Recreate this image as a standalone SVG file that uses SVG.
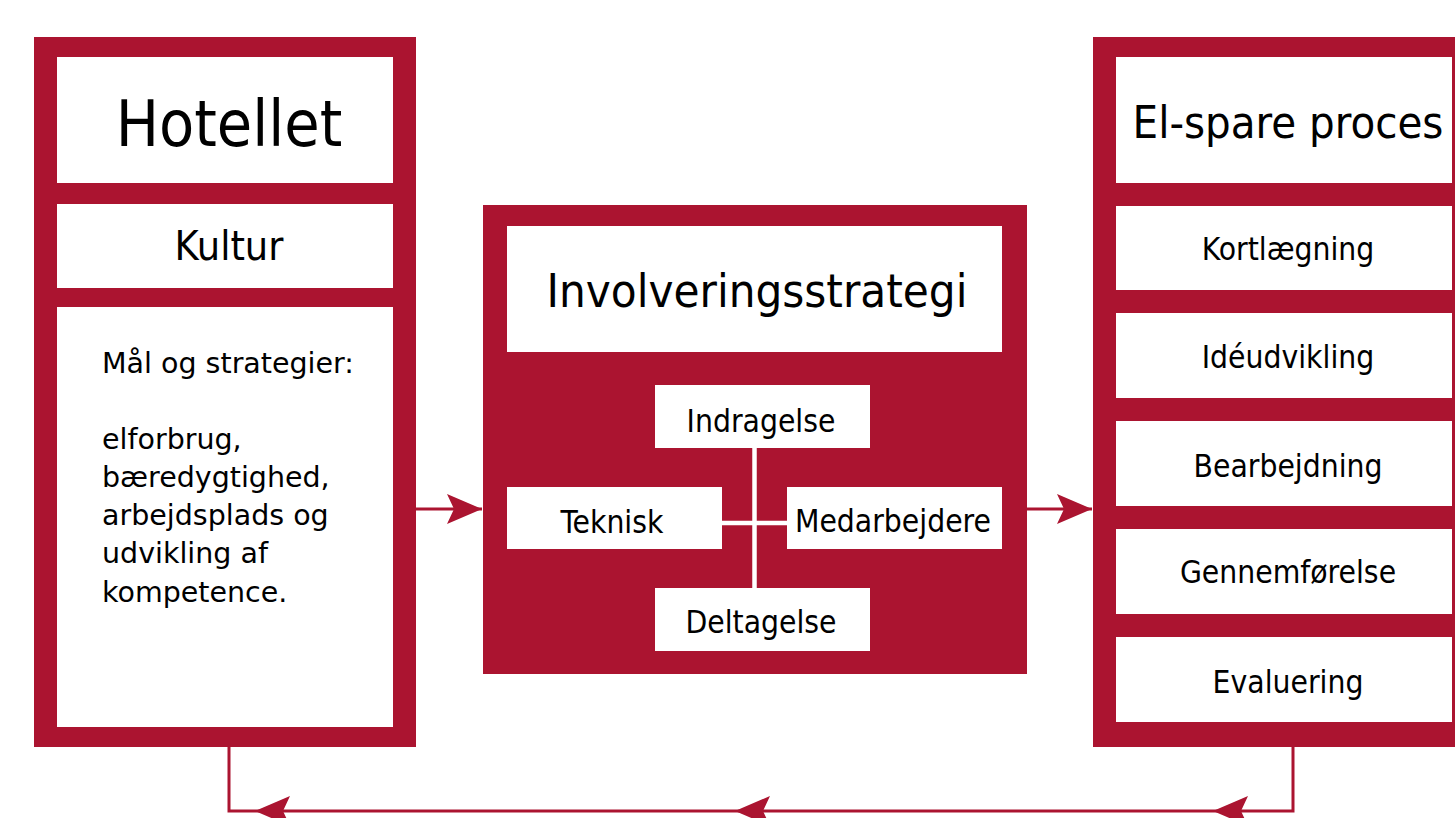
<svg xmlns="http://www.w3.org/2000/svg" width="1455" height="818" viewBox="0 0 1455 818">
<defs>
<style>
.frame{fill:#AB1430;}
.box{fill:#ffffff;}
.t{font-family:"DejaVu Sans Condensed","DejaVu Sans",sans-serif;font-stretch:condensed;fill:#000;text-anchor:middle;}
.tl{font-family:"DejaVu Sans",sans-serif;fill:#000;}
.conn{fill:none;stroke:#AB1430;stroke-width:3;}
.thin{stroke:#ffffff;stroke-width:4.5;}
</style>
<marker id="arr" markerUnits="userSpaceOnUse" markerWidth="35" markerHeight="30" viewBox="0 0 35 30" refX="35" refY="15" orient="auto">
<path d="M0,0 L35,15 L0,30 L7,15 Z" fill="#AB1430"/>
</marker>
</defs>
<rect width="1455" height="818" fill="#ffffff"/>

<g id="hotellet">
<rect class="frame" x="34" y="37" width="382" height="710"/>
<rect class="box" x="57" y="57" width="336" height="126"/>
<text class="t" x="229" y="146" font-size="64">Hotellet</text>
<rect class="box" x="57" y="204" width="336" height="84"/>
<text class="t" x="229" y="260" font-size="41">Kultur</text>
<rect class="box" x="57" y="307" width="336" height="420"/>
<text class="tl" x="102" font-size="28.5"><tspan x="102" y="373">Mål og strategier:</tspan><tspan x="102" y="449">elforbrug,</tspan><tspan x="102" y="487">bæredygtighed,</tspan><tspan x="102" y="525">arbejdsplads og</tspan><tspan x="102" y="563">udvikling af</tspan><tspan x="102" y="602">kompetence.</tspan></text>
</g>

<g id="involvering">
<rect class="frame" x="483" y="205" width="544" height="469"/>
<rect class="box" x="507" y="226" width="495" height="126"/>
<text class="t" x="757" y="307" font-size="47">Involveringsstrategi</text>
<line class="thin" x1="754.5" y1="448" x2="754.5" y2="588"/>
<line class="thin" x1="722" y1="523" x2="787" y2="523"/>
<g id="indragelse">
<rect class="box" x="655" y="385" width="215" height="63"/>
<text class="t" x="761" y="432" font-size="31.5">Indragelse</text>
</g>
<g id="teknisk">
<rect class="box" x="507" y="487" width="215" height="62"/>
<text class="t" x="612" y="533" font-size="31.5">Teknisk</text>
</g>
<g id="medarbejdere">
<rect class="box" x="787" y="487" width="215" height="62"/>
<text class="t" x="893" y="532" font-size="31.5">Medarbejdere</text>
</g>
<g id="deltagelse">
<rect class="box" x="655" y="588" width="215" height="63"/>
<text class="t" x="761" y="633" font-size="31.5">Deltagelse</text>
</g>
</g>

<g id="elspare">
<rect class="frame" x="1093" y="37" width="400" height="710"/>
<rect class="box" x="1116" y="57" width="336" height="126"/>
<text class="t" x="1288" y="138" font-size="45">El-spare proces</text>
<g id="kortlaegning">
<rect class="box" x="1116" y="206" width="336" height="84"/>
<text class="t" x="1288" y="260" font-size="31.5">Kortlægning</text>
</g>
<g id="ideudvikling">
<rect class="box" x="1116" y="313" width="336" height="85"/>
<text class="t" x="1288" y="368" font-size="31.5">Idéudvikling</text>
</g>
<g id="bearbejdning">
<rect class="box" x="1116" y="421" width="336" height="85"/>
<text class="t" x="1288" y="477" font-size="31.5">Bearbejdning</text>
</g>
<g id="gennemfoerelse">
<rect class="box" x="1116" y="529" width="336" height="85"/>
<text class="t" x="1288" y="583" font-size="31.5">Gennemførelse</text>
</g>
<g id="evaluering">
<rect class="box" x="1116" y="637" width="336" height="85"/>
<text class="t" x="1288" y="693" font-size="31.5">Evaluering</text>
</g>
</g>

<g id="connectors">
<path class="conn" d="M416,509 H482" marker-end="url(#arr)"/>
<path class="conn" d="M1027,509 H1092" marker-end="url(#arr)"/>
<path class="conn" d="M1293,747 V811 H1213" marker-end="url(#arr)"/>
<path class="conn" d="M1213,811 H735" marker-end="url(#arr)"/>
<path class="conn" d="M735,811 H255" marker-end="url(#arr)"/>
<path class="conn" d="M255,811 H229 V747"/>
</g>
</svg>
